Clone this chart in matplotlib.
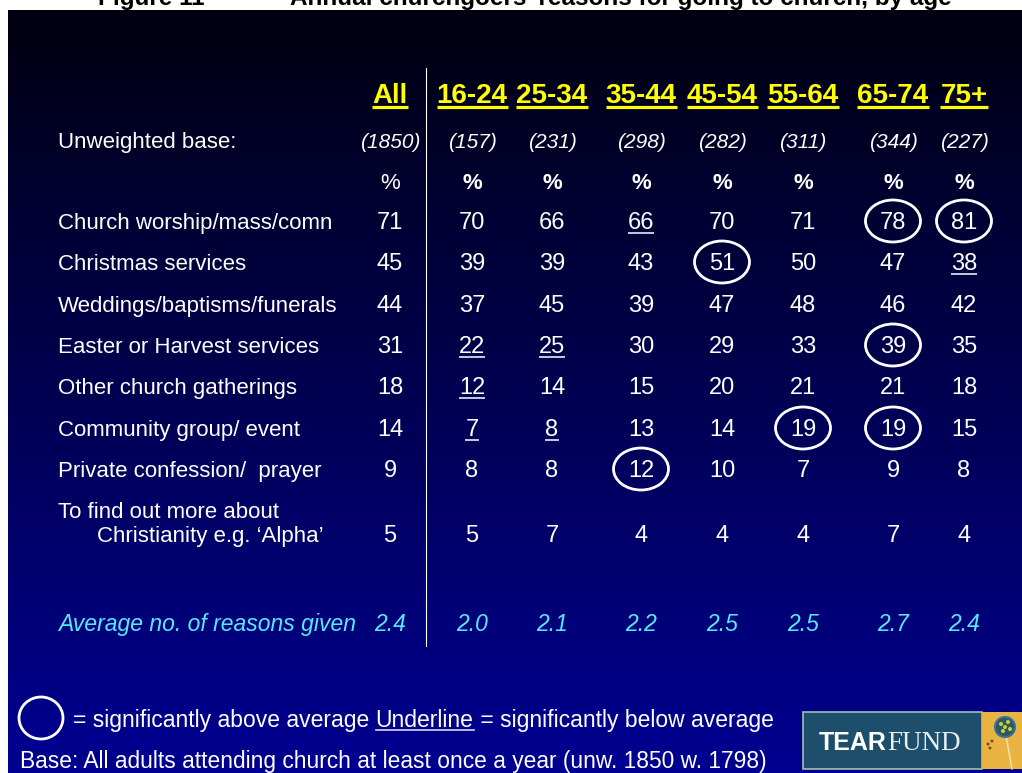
import numpy as np
import matplotlib.pyplot as plt
from matplotlib.patches import Ellipse, Rectangle, Circle

# --- data ---------------------------------------------------------------
age_groups = ['All', '16-24', '25-34', '35-44', '45-54', '55-64', '65-74', '75+']
bases = [1850, 157, 231, 298, 282, 311, 344, 227]
reasons = ['Church worship/mass/comn', 'Christmas services',
           'Weddings/baptisms/funerals', 'Easter or Harvest services',
           'Other church gatherings', 'Community group/ event',
           'Private confession/  prayer',
           'To find out more about\nChristianity e.g. \u2018Alpha\u2019']

pct_all = [71, 45, 44, 31, 18, 14, 9, 5]
pct_16_24 = [70, 39, 37, 22, 12, 7, 8, 5]
pct_25_34 = [66, 39, 45, 25, 14, 8, 8, 7]
pct_35_44 = [66, 43, 39, 30, 15, 13, 12, 4]
pct_45_54 = [70, 51, 47, 29, 20, 14, 10, 4]
pct_55_64 = [71, 50, 48, 33, 21, 19, 7, 4]
pct_65_74 = [78, 47, 46, 39, 21, 19, 9, 7]
pct_75plus = [81, 38, 42, 35, 18, 15, 8, 4]
avg_reasons = [2.4, 2.0, 2.1, 2.2, 2.5, 2.5, 2.7, 2.4]

# (row, column) of significant cells
above_avg = [(0, 6), (0, 7), (1, 4), (3, 6), (5, 5), (5, 6), (6, 3)]
below_avg = [(0, 3), (1, 7), (3, 1), (3, 2), (4, 1), (5, 1), (5, 2)]

columns = [pct_all, pct_16_24, pct_25_34, pct_35_44,
           pct_45_54, pct_55_64, pct_65_74, pct_75plus]

# --- layout -------------------------------------------------------------
col_x = [390, 472, 552, 641, 722, 803, 893, 964]
row_base = [229, 270, 312, 353, 394, 436, 477, 542]
label_x = 58

SANS = ['Liberation Sans', 'DejaVu Sans']
NARROW = ['Liberation Sans Narrow', 'Liberation Sans', 'DejaVu Sans']
YELLOW = '#FFFF00'
CYAN = '#55E8FF'

fig = plt.figure(figsize=(10.22, 7.73), dpi=100)
fig.patch.set_facecolor('white')
ax = fig.add_axes([0, 0, 1, 1])
ax.set_xlim(0, 1022)
ax.set_ylim(773, 0)
ax.axis('off')

# slide background: dark navy at top to blue at bottom
grad = np.linspace(0, 1, 256)
rgb = np.zeros((256, 1, 3))
rgb[:, 0, 2] = (16 + 130 * grad) / 255
ax.imshow(rgb, extent=(8, 1022, 773, 10), aspect='auto', zorder=1)

# figure title (the slide hides most of it, as in the original)
ax.text(98, 5, 'Figure 11', fontsize=17.5, fontweight='bold', family=SANS,
        color='black', va='baseline', zorder=0)
ax.text(290, 5, 'Annual churchgoers\u2019 reasons for going to church, by age',
        fontsize=17.5, fontweight='bold', family=SANS, color='black',
        va='baseline', zorder=0)

to_underline = []

# column headers
for x, g in zip(col_x, age_groups):
    t = ax.text(x, 103, g, fontsize=20, fontweight='bold', family=SANS,
                color=YELLOW, ha='center', va='baseline', zorder=3)
    to_underline.append((t, 107, YELLOW, 2.3))

# vertical divider
ax.plot([426, 426], [68, 646], color='white', lw=0.8, zorder=3)

# unweighted base row
ax.text(label_x, 148, 'Unweighted base:', fontsize=16, family=SANS,
        color='white', va='baseline', zorder=3)
for x, b in zip(col_x, bases):
    ax.text(x, 148, '(%d)' % b, fontsize=15, style='italic', family=NARROW,
            color='white', ha='center', va='baseline', zorder=3)

# percent row
for i, x in enumerate(col_x):
    ax.text(x, 189, '%', fontsize=16, family=SANS, color='white',
            fontweight='normal' if i == 0 else 'bold',
            ha='center', va='baseline', zorder=3)

# reasons rows
for r, lab in enumerate(reasons):
    lines = lab.split('\n')
    if len(lines) == 1:
        ax.text(label_x, row_base[r], lines[0], fontsize=16, family=SANS,
                color='white', va='baseline', zorder=3)
    else:
        ax.text(label_x, row_base[r] - 24, lines[0], fontsize=16, family=SANS,
                color='white', va='baseline', zorder=3)
        ax.text(label_x + 39, row_base[r], lines[1], fontsize=16, family=SANS,
                color='white', va='baseline', zorder=3)
    for c, (x, vals) in enumerate(zip(col_x, columns)):
        t = ax.text(x, row_base[r], str(vals[r]), fontsize=17, family=NARROW,
                    color='white', ha='center', va='baseline', zorder=3)
        if (r, c) in below_avg:
            to_underline.append((t, row_base[r] + 4, '#d8d8ee', 1.3))
        if (r, c) in above_avg:
            ax.add_patch(Ellipse((x, row_base[r] - 8), 55, 42, fill=False,
                                 ec='white', lw=2, zorder=3))

# average row
ax.text(label_x, 631, 'Average no. of reasons given', fontsize=16.5,
        style='italic', family=SANS, color=CYAN, va='baseline', zorder=3)
for x, a in zip(col_x, avg_reasons):
    ax.text(x, 631, '%.1f' % a, fontsize=16.5, style='italic', family=SANS,
            color=CYAN, ha='center', va='baseline', zorder=3)

# key
ax.add_patch(Ellipse((41, 718), 44, 42, fill=False, ec='white', lw=2, zorder=3))
k1 = ax.text(73, 727, '= significantly above average ', fontsize=16.5,
             family=SANS, color='white', va='baseline', zorder=3)
ax.text(20, 768, 'Base: All adults attending church at least once a year '
        '(unw. 1850 w. 1798)', fontsize=16.4, family=SANS, color='white',
        va='baseline', zorder=3)

# Tearfund logo
ax.add_patch(Rectangle((803, 712), 179, 57, fc='#1d4e6c', ec='#9fc0b0',
                       lw=1.2, zorder=3))
ax.add_patch(Rectangle((982, 712), 40, 57, fc='#eab443', ec='none', zorder=3))
tear = ax.text(819, 750, 'TEAR', fontsize=18, fontweight='bold', family=SANS,
               color='white', va='baseline', zorder=4)

# measure texts to place underlines and the rest of the key / logo
fig.canvas.draw()
inv = ax.transData.inverted()


def data_span(t):
    bb = t.get_window_extent()
    (x0, _), (x1, _) = inv.transform([[bb.x0, bb.y0], [bb.x1, bb.y1]])
    return x0, x1


for t, y, col, lw in to_underline:
    x0, x1 = data_span(t)
    ax.plot([x0, x1], [y, y], color=col, lw=lw, solid_capstyle='butt',
            zorder=3)

_, tx = data_span(tear)
ax.text(tx, 750, 'FUND', fontsize=19.5,
        family=['Liberation Serif', 'DejaVu Serif'],
        color='#e8f0f0', va='baseline', zorder=4)

_, kx = data_span(k1)
k2 = ax.text(kx, 727, 'Underline', fontsize=16.5, family=SANS, color='white',
             va='baseline', zorder=3)
fig.canvas.draw()
ux0, ux1 = data_span(k2)
ax.plot([ux0, ux1], [730, 730], color='#d8d8ee', lw=1.2, zorder=3)
ax.text(ux1, 727, ' = significantly below average', fontsize=16.5,
        family=SANS, color='white', va='baseline', zorder=3)

# dandelion on the logo
ax.plot([1005, 1012], [730, 769], color='#f6e6b0', lw=1, zorder=4)
ax.add_patch(Circle((1005, 727), 10, fc='#2f5a5a', ec='#3a6fa0', lw=1.5,
                    zorder=5))
for dx, dy in [(-4, -3), (3, -5), (5, 2), (-2, 4), (0, 0)]:
    ax.add_patch(Circle((1005 + dx, 727 + dy), 2, fc='#c0d040', ec='none',
                        zorder=6))
for px, py in [(988, 744), (992, 741), (990, 748)]:
    ax.add_patch(Circle((px, py), 1.5, fc='#7a4a20', ec='none', zorder=4))

fig.savefig('out.png', dpi=100)
